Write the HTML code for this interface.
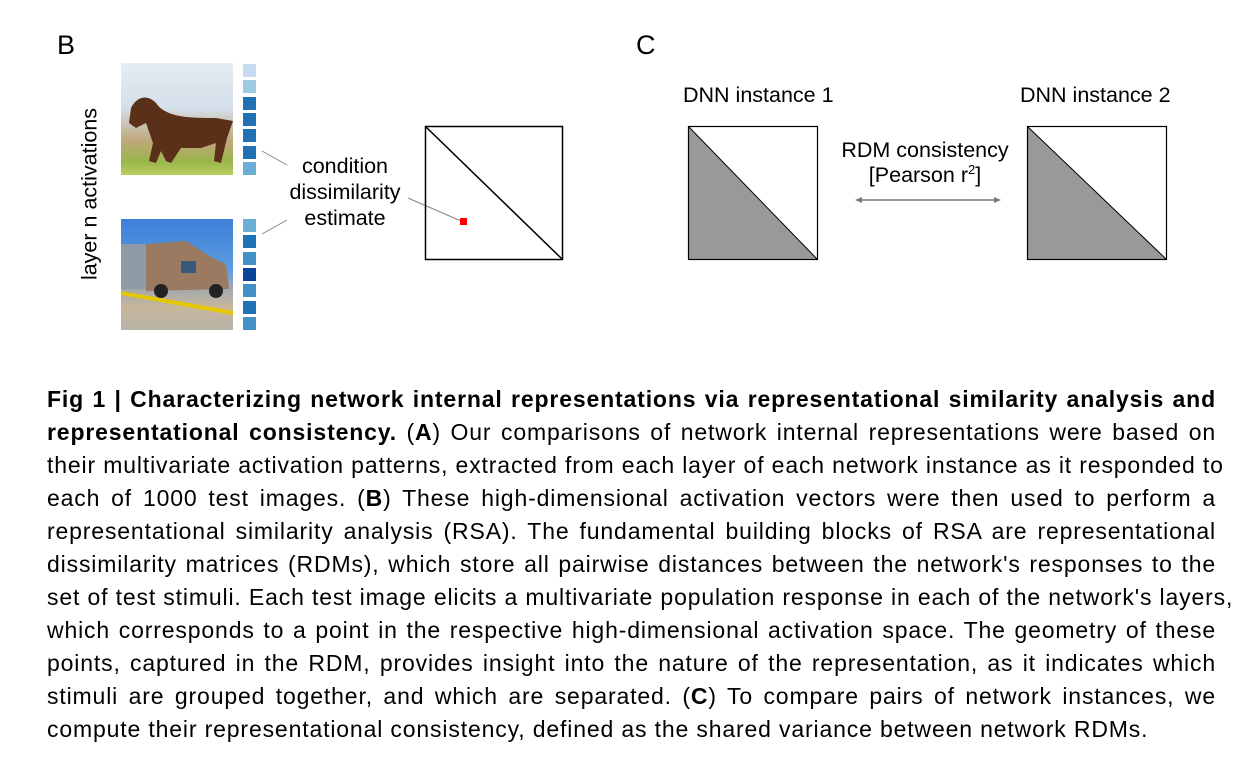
<!DOCTYPE html>
<html><head><meta charset="utf-8"><style>
body{margin:0;width:1239px;height:765px;background:#fff;position:relative;overflow:hidden;font-family:"Liberation Sans",sans-serif;color:#000}
.a{position:absolute}
.cap{position:absolute;left:47px;top:383px;width:1169px;font-size:23px;letter-spacing:0.85px;line-height:33px}
.cap div{text-align:justify;text-align-last:justify;white-space:nowrap}
.cap div.l{text-align-last:left}
.sq{position:absolute;width:13px;height:13px}
</style></head><body>
<div class="a" style="left:57px;top:30px;font-size:27px">B</div>
<div class="a" style="left:636px;top:30px;font-size:27px">C</div>
<div class="a" style="left:90px;top:194px;font-size:21.5px;transform:translate(-50%,-50%) rotate(-90deg);white-space:nowrap">layer n activations</div>

<div class="a" style="left:121px;top:63px;width:112px;height:112px;background:linear-gradient(#e6ecf2 0%,#d4dfea 40%,#bfa77a 70%,#9ab54a 88%,#b8d060 100%)"></div>
<svg class="a" style="left:121px;top:63px" width="112" height="112">
<path d="M10,45 C15,35 25,30 35,40 C45,55 70,55 95,55 L112,58 L106,75 L100,100 L93,98 L95,80 L80,85 L60,85 L50,100 L45,98 L40,88 L35,100 L28,98 L32,80 L25,60 L15,65 L8,60 Z" fill="#5a3018"/>
</svg>
<div class="a" style="left:121px;top:219px;width:112px;height:111px;background:linear-gradient(#3d7fd8 0%,#5a9be0 45%,#a0a8b0 62%,#c8b69a 80%,#b8b2a8 100%)"></div>
<svg class="a" style="left:121px;top:219px" width="112" height="111">
<rect x="0" y="25" width="30" height="45" fill="#8e9aa6"/>
<path d="M25,25 L65,22 L90,38 L105,45 L108,70 L25,72 Z" fill="#9a7a60"/>
<rect x="60" y="42" width="15" height="12" fill="#3a5a7a"/>
<circle cx="40" cy="72" r="7" fill="#222"/><circle cx="95" cy="72" r="7" fill="#222"/>
<path d="M0,72 L112,92 L112,96 L0,76 Z" fill="#e6c800"/>
</svg>

<div class="sq" style="left:243px;top:64px;background:#c6dbef"></div>
<div class="sq" style="left:243px;top:80px;background:#9ecae1"></div>
<div class="sq" style="left:243px;top:97px;background:#2171b5"></div>
<div class="sq" style="left:243px;top:113px;background:#2171b5"></div>
<div class="sq" style="left:243px;top:129px;background:#2171b5"></div>
<div class="sq" style="left:243px;top:146px;background:#2171b5"></div>
<div class="sq" style="left:243px;top:162px;background:#6baed6"></div>

<div class="sq" style="left:243px;top:219px;background:#6baed6"></div>
<div class="sq" style="left:243px;top:235px;background:#2171b5"></div>
<div class="sq" style="left:243px;top:252px;background:#4292c6"></div>
<div class="sq" style="left:243px;top:268px;background:#08439a"></div>
<div class="sq" style="left:243px;top:284px;background:#4292c6"></div>
<div class="sq" style="left:243px;top:301px;background:#2171b5"></div>
<div class="sq" style="left:243px;top:317px;background:#4292c6"></div>

<svg class="a" style="left:0;top:0" width="1239" height="380">
<line x1="262" y1="151" x2="287" y2="165" stroke="#888" stroke-width="1"/>
<line x1="262" y1="234" x2="287" y2="220" stroke="#888" stroke-width="1"/>
<line x1="408" y1="198" x2="461" y2="221" stroke="#888" stroke-width="1"/>
<rect x="425.5" y="126.5" width="137" height="133" fill="none" stroke="#000" stroke-width="1.5"/>
<line x1="426" y1="127" x2="562" y2="259" stroke="#000" stroke-width="1.5"/>
<rect x="460" y="218" width="7" height="7" fill="#f00"/>
<polygon points="689,127 817,259 689,259" fill="#999"/>
<rect x="688.5" y="126.5" width="129" height="133" fill="none" stroke="#000" stroke-width="1.2"/>
<line x1="689" y1="127" x2="817" y2="259" stroke="#000" stroke-width="1"/>
<polygon points="1028,127 1166,259 1028,259" fill="#999"/>
<rect x="1027.5" y="126.5" width="139" height="133" fill="none" stroke="#000" stroke-width="1.2"/>
<line x1="1028" y1="127" x2="1166" y2="259" stroke="#000" stroke-width="1"/>
<line x1="860" y1="200" x2="996" y2="200" stroke="#777" stroke-width="1.5"/>
<polygon points="855,200 862,197 862,203" fill="#777"/>
<polygon points="1001,200 994,197 994,203" fill="#777"/>
</svg>

<div class="a" style="left:270px;top:153px;width:150px;text-align:center;font-size:21.5px;line-height:26px">condition<br>dissimilarity<br>estimate</div>
<div class="a" style="left:683px;top:83px;font-size:21.5px">DNN instance 1</div>
<div class="a" style="left:1020px;top:83px;font-size:21.5px">DNN instance 2</div>
<div class="a" style="left:815px;top:138px;width:220px;text-align:center;font-size:21.5px;line-height:25px">RDM consistency<br>[Pearson r<sup style="font-size:13px;line-height:0">2</sup>]</div>

<div class="cap">
<div><b>Fig 1 | Characterizing network internal representations via representational similarity analysis and</b></div>
<div><b>representational consistency.</b> (<b>A</b>) Our comparisons of network internal representations were based on</div>
<div>their multivariate activation patterns, extracted from each layer of each network instance as it responded to</div>
<div>each of 1000 test images. (<b>B</b>) These high-dimensional activation vectors were then used to perform a</div>
<div>representational similarity analysis (RSA). The fundamental building blocks of RSA are representational</div>
<div>dissimilarity matrices (RDMs), which store all pairwise distances between the network's responses to the</div>
<div>set of test stimuli. Each test image elicits a multivariate population response in each of the network's layers,</div>
<div>which corresponds to a point in the respective high-dimensional activation space. The geometry of these</div>
<div>points, captured in the RDM, provides insight into the nature of the representation, as it indicates which</div>
<div>stimuli are grouped together, and which are separated. (<b>C</b>) To compare pairs of network instances, we</div>
<div class="l">compute their representational consistency, defined as the shared variance between network RDMs.</div>
</div>
</body></html>
